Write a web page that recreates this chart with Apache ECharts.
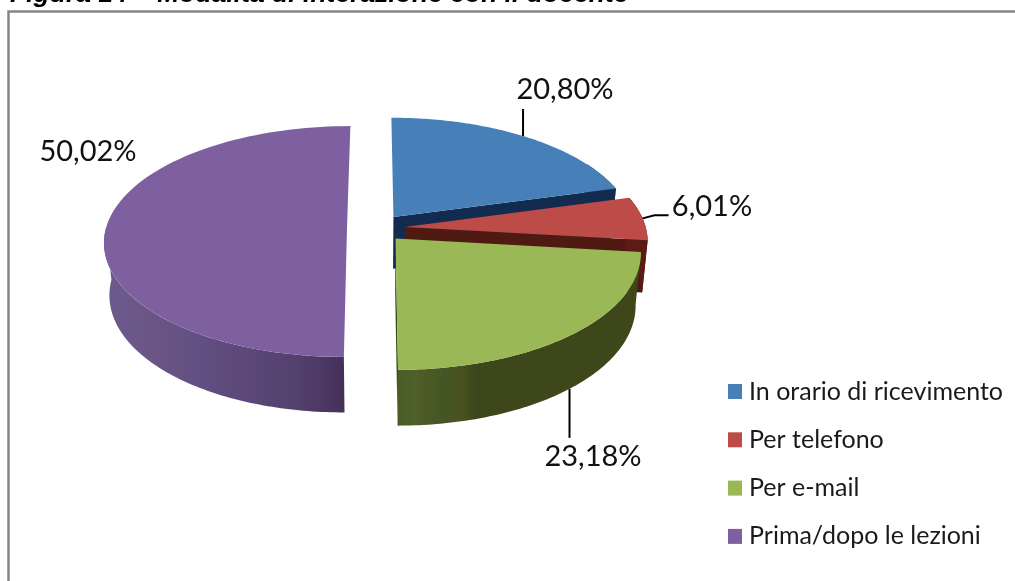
<!DOCTYPE html>
<html lang="en">
<head>
  <meta charset="UTF-8">
  <title>Modalità di interazione con il docente</title>
  <style>
    html,body{margin:0;padding:0;background:#fff;}
    #main{width:1015px;height:581px;}
  </style>
</head>
<body>
  <div id="main"></div>
  <script src="https://cdn.jsdelivr.net/npm/echarts@6/dist/echarts.min.js"></script>
  <script>
    const categories=['In orario di ricevimento','Per telefono','Per e-mail','Prima/dopo le lezioni'];
    const values=[20.80,6.01,23.18,50.02];
    const topColors=['#4780b9','#bd4c48','#9ab855','#7e60a0'];
    const cutColors=['#122b4f','#4f1a12','#3e4a1c','#45305c'];
    const wallColors=[
      [[0,'#122b4f'],[1,'#122b4f']],
      [[0,'#5a1c14'],[1,'#5a1c14']],
      [[0,'#4a5c26'],[0.07,'#4f6029'],[0.12,'#4b5a25'],[0.19,'#445626'],[0.26,'#495220'],[0.32,'#3e471b'],[1,'#3d471a']],
      [[0,'#6d5a8e'],[0.2,'#6a5585'],[0.35,'#645183'],[0.5,'#5f4a7c'],[0.65,'#5a4676'],[0.8,'#53406d'],[0.9,'#4d3866'],[1,'#453058']]
    ];
    // where the text sits, and the leader's shape relative to the slice rim
    const leaders=[[[0,-27]],[[12,-3],[26,-3]],[[0,49]],null];
    const labelAt=[[565,90],[712,207],[593,457],[88,152]];

    // fake 3D: flat pie plane projected with a bit of perspective
    const CX=376,CY=228,R=241,SQUASH=0.479,PERSP=0.117,EXPLODE=29,DEPTH=52,SHRINK=0.98;
    const WALL_FROM=Math.PI/3,WALL_TO=Math.PI*1.5; // only the rim part facing the viewer
    function project(x,y,low){
      const w=1+PERSP*y/R;
      if(low) return [CX+x*w*SHRINK,CY+(y*SQUASH*SHRINK+DEPTH)*w];
      return [CX+x*w,CY+y*SQUASH*w];
    }
    const total=values.reduce((a,b)=>a+b,0);
    function sliceAngles(i){
      let before=0;
      for(let k=0;k<i;k++) before+=values[k];
      return [before/total*Math.PI*2,(before+values[i])/total*Math.PI*2];
    }
    function slicePoint(i,ang,r){
      const a=sliceAngles(i),mid=(a[0]+a[1])/2;
      const ox=EXPLODE*Math.sin(mid),oy=-EXPLODE*Math.cos(mid);
      return [ox+r*Math.sin(ang),oy-r*Math.cos(ang)];
    }
    function rim(i,from,to,low){
      const pts=[];
      const n=90;
      for(let k=0;k<=n;k++){
        const p=slicePoint(i,from+(to-from)*k/n,R);
        pts.push(project(p[0],p[1],low));
      }
      return pts;
    }
    function wallGradient(i,pts){
      const xs=pts.map(p=>p[0]);
      return new echarts.graphic.LinearGradient(Math.min(...xs),0,Math.max(...xs),0,
        wallColors[i].map(s=>({offset:s[0],color:s[1]})),true);
    }
    function renderSlice(i){
      return function(){
        const a=sliceAngles(i),mid=(a[0]+a[1])/2;
        const apexW=slicePoint(i,0,0);
        const apex=project(apexW[0],apexW[1],false);
        const apexLow=project(apexW[0],apexW[1],true);
        const topRim=rim(i,a[0],a[1],false);
        const lowRim=rim(i,a[0],a[1],true);
        const kids=[];
        // cut faces that look towards the viewer
        if(i<3){
          const end=topRim[topRim.length-1],endLow=lowRim[lowRim.length-1];
          kids.push({type:'polygon',shape:{points:[apex,end,endLow,apexLow]},style:{fill:cutColors[i]}});
        }
        // outer wall
        const from=Math.max(a[0],WALL_FROM),to=Math.min(a[1],WALL_TO);
        if(to>from){
          const wallPts=rim(i,from,to,false).concat(rim(i,from,to,true).reverse());
          kids.push({type:'polygon',shape:{points:wallPts},style:{fill:wallGradient(i,wallPts)}});
        }
        // top face
        kids.push({type:'polygon',shape:{points:[apex].concat(topRim)},style:{fill:topColors[i]}});
        // leader line
        if(leaders[i]){
          const m=slicePoint(i,mid,R);
          const start=project(m[0],m[1],i===2);
          const line=[start].concat(leaders[i].map(d=>[start[0]+d[0],start[1]+d[1]]));
          kids.push({type:'polyline',z2:10,shape:{points:line},style:{fill:null,stroke:'#000',lineWidth:2}});
        }
        return {type:'group',children:kids};
      };
    }
    const labelFormat=v=>v.toFixed(2).replace('.',',')+'%';

    const chart=echarts.init(document.querySelector('#main'),null,{renderer:'canvas'});
    const option={
      animation:false,
      backgroundColor:'#fff',
      legend:{
        orient:'vertical',
        left:723,
        top:374,
        itemWidth:14,
        itemHeight:15,
        itemGap:23.3,
        icon:'rect',
        data:categories,
        textStyle:{fontFamily:'Lato',fontSize:25,lineHeight:24,color:'#1a1a1a',padding:[0,0,0,2]}
      },
      graphic:[
        {type:'polyline',silent:true,shape:{points:[[8.5,581],[8.5,11.5],[1015,11.5]]},style:{fill:null,stroke:'#868686',lineWidth:2.5}},
        {type:'text',silent:true,x:10,y:-19,style:{text:'Figura 14 \u2013 Modalità di interazione con il docente',font:'italic bold 26.5px "Liberation Sans"',fill:'#000'}}
      ].concat(values.map((v,i)=>({
        type:'text',silent:true,x:labelAt[i][0],y:labelAt[i][1],
        style:{text:labelFormat(v),font:'29px Lato',fill:'#111',align:'center',verticalAlign:'middle'}
      }))),
      series:categories.map((name,i)=>({
        name:name,
        type:'custom',
        coordinateSystem:'none',
        silent:true,
        z:2,
        itemStyle:{color:topColors[i]},
        renderItem:renderSlice(i),
        data:[values[i]]
      }))
    };
    chart.setOption(option);
  </script>
</body>
</html>
